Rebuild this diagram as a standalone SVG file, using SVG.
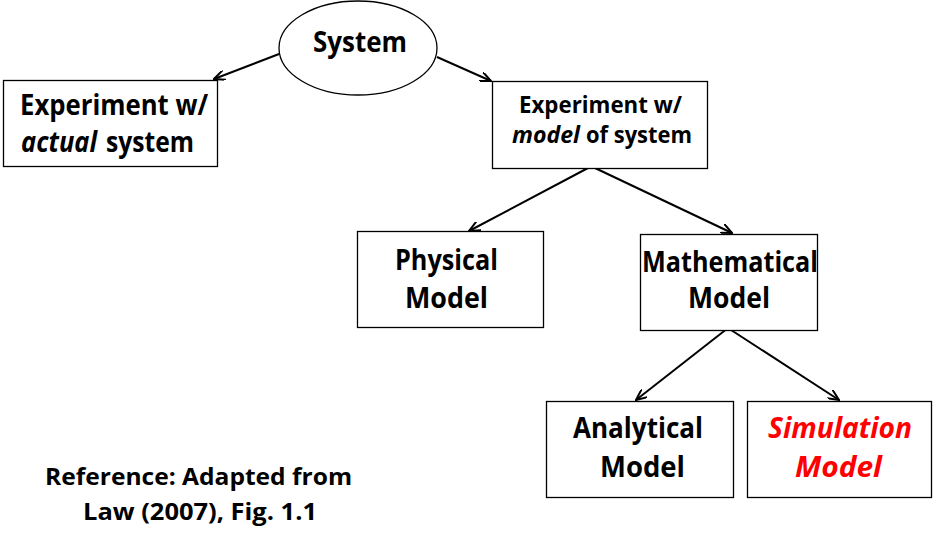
<svg xmlns="http://www.w3.org/2000/svg" width="933" height="548" viewBox="0 0 933 548">
<defs>
<marker id="ah" viewBox="0 0 12 10" refX="11" refY="5" markerWidth="12" markerHeight="10" markerUnits="userSpaceOnUse" orient="auto">
<path d="M0,0 L11,5 L0,10" fill="none" stroke="#000" stroke-width="2"/>
</marker>
<style>
.box{fill:#fff;stroke:#000;stroke-width:1.3}
.t{font-family:"Open Sans","Liberation Sans",sans-serif;font-weight:bold;fill:#000}
.big{font-size:28px}
.mid{font-size:23px}
.i{font-style:italic}
.red{fill:#ff0000}
.c{stroke:#000;stroke-width:2;fill:none;marker-end:url(#ah)}
</style>
</defs>
<rect width="933" height="548" fill="#fff"/>
<g id="connectors">
<line class="c" x1="279" y1="54" x2="214" y2="79"/>
<line class="c" x1="437" y1="57" x2="491" y2="81"/>
<line class="c" x1="588" y1="168" x2="469" y2="231"/>
<line class="c" x1="595" y1="168" x2="732" y2="233"/>
<line class="c" x1="728" y1="328" x2="636" y2="400"/>
<line class="c" x1="728" y1="328" x2="839" y2="400"/>
</g>
<g id="system">
<ellipse cx="358" cy="48" rx="79" ry="47" fill="#fff" stroke="#000" stroke-width="1.3"/>
<text class="t big" x="360" y="52" text-anchor="middle" textLength="94" lengthAdjust="spacingAndGlyphs">System</text>
</g>
<g id="actual">
<rect class="box" x="3.5" y="80.5" width="214" height="86"/>
<text class="t big" x="20" y="115" textLength="188" lengthAdjust="spacingAndGlyphs">Experiment w/</text>
<text class="t big i" x="21" y="152" textLength="76" lengthAdjust="spacingAndGlyphs">actual</text>
<text class="t big" x="106" y="152" textLength="88" lengthAdjust="spacingAndGlyphs">system</text>
</g>
<g id="model">
<rect class="box" x="492.5" y="81.5" width="215" height="87"/>
<text class="t mid" x="519" y="113" textLength="163" lengthAdjust="spacingAndGlyphs">Experiment w/</text>
<text class="t mid i" x="512" y="143" textLength="68" lengthAdjust="spacingAndGlyphs">model</text>
<text class="t mid" x="586" y="143" textLength="106" lengthAdjust="spacingAndGlyphs">of system</text>
</g>
<g id="physical">
<rect class="box" x="357.5" y="231.5" width="186" height="96"/>
<text class="t big" x="395" y="270" textLength="103" lengthAdjust="spacingAndGlyphs">Physical</text>
<text class="t big" x="405" y="308" textLength="83" lengthAdjust="spacingAndGlyphs">Model</text>
</g>
<g id="mathematical">
<rect class="box" x="640.5" y="234.5" width="177" height="96"/>
<text class="t big" x="642" y="272" textLength="176" lengthAdjust="spacingAndGlyphs">Mathematical</text>
<text class="t big" x="688" y="308" textLength="82" lengthAdjust="spacingAndGlyphs">Model</text>
</g>
<g id="analytical">
<rect class="box" x="546.5" y="401.5" width="187" height="96"/>
<text class="t big" x="573" y="438" textLength="130" lengthAdjust="spacingAndGlyphs">Analytical</text>
<text class="t big" x="600" y="477" textLength="85" lengthAdjust="spacingAndGlyphs">Model</text>
</g>
<g id="simulation">
<rect class="box" x="747.5" y="401.5" width="184" height="96"/>
<text class="t big i red" x="768" y="438" textLength="144" lengthAdjust="spacingAndGlyphs">Simulation</text>
<text class="t big i red" x="795" y="477" textLength="87" lengthAdjust="spacingAndGlyphs">Model</text>
</g>
<g id="reference">
<text class="t" style="font-size:24px" x="45" y="485" textLength="307" lengthAdjust="spacingAndGlyphs">Reference: Adapted from</text>
<text class="t" style="font-size:24px" x="83" y="520" textLength="234" lengthAdjust="spacingAndGlyphs">Law (2007), Fig. 1.1</text>
</g>
</svg>
